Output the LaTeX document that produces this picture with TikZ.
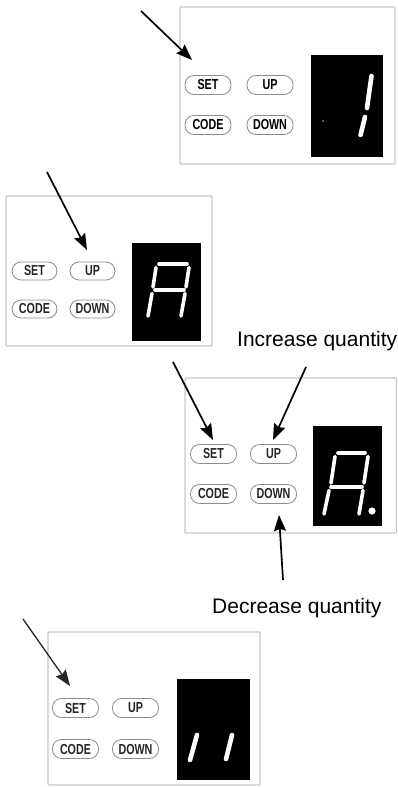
\documentclass[tikz,border=0pt]{standalone}
\usepackage{fontspec}
\setmainfont{Liberation Sans}
\newfontfamily\keyfont[FakeStretch=0.74]{Liberation Sans}
\usetikzlibrary{positioning,arrows.meta}

\tikzset{
	panel/.style={draw=black!22, line width=1.2pt, rounded corners=1pt},
	screen/.style={fill=black},
	key/.style={draw=black!45, line width=0.8pt, rounded corners=9pt, minimum width=46pt,
		minimum height=19pt, inner sep=0pt, text=black!85,
		font=\keyfont\bfseries\fontsize{14.5}{15}\selectfont},
	seg/.style={draw=white, line width=3.6pt, line cap=round},
	pointer/.style={-{Stealth[length=16pt,width=12pt,inset=2pt]}, line width=1.7pt},
	caption/.style={font=\fontsize{21}{25}\selectfont, inner sep=0pt}
}

\begin{document}
\begin{tikzpicture}[x=1pt,y=1pt,node distance=40pt and 62pt,on grid]
	\useasboundingbox (0,0) rectangle (398,-787);

	% first panel: SET pressed, shows 1
	\draw[panel] (180,-7) rectangle (395,-164);
	\fill[screen] (311,-55) rectangle (383,-157);
	\node[key, text=black] (set_1) at (208,-85) {SET};
	\node[key, text=black] (up_1) [right=of set_1] {UP};
	\node[key, text=black] (code_1) [below=of set_1] {CODE};
	\node[key, text=black] (down_1) [right=of code_1] {DOWN};
	\draw[seg, line width=4.6pt] (371.5,-76) -- (367,-108);
	\draw[seg, line width=4.6pt] (365,-117) -- (360.5,-135);
	\fill[black!45] (323,-121) circle (1pt);
	\coordinate (from_1) at (141,-11);
	\coordinate (to_1) at (192,-60);
	\draw[pointer] (from_1) -- (to_1);

	% second panel: UP, shows A
	\draw[panel] (6,-196) rectangle (212,-346);
	\fill[screen] (132,-243) rectangle (201,-341);
	\node[key, minimum width=45pt, minimum height=18pt] (set_2) at (34.5,-271) {SET};
	\node[key, minimum width=45pt, minimum height=18pt] (up_2) [right=58pt of set_2] {UP};
	\node[key, minimum width=45pt, minimum height=18pt] (code_2) [below=38pt of set_2] {CODE};
	\node[key, minimum width=45pt, minimum height=18pt] (down_2) [right=58pt of code_2] {DOWN};
	\draw[seg] (159,-264) -- (187,-264);
	\draw[seg] (156,-267.5) -- (153,-287);
	\draw[seg] (189,-267.5) -- (186,-287);
	\draw[seg] (155,-290) -- (184,-290);
	\draw[seg] (152,-293.5) -- (148,-316);
	\draw[seg] (185,-293.5) -- (181,-316);
	\coordinate (from_2) at (47,-172);
	\coordinate (to_2) at (87,-250);
	\draw[pointer] (from_2) -- (to_2);

	% third panel: UP / DOWN, shows A.
	\draw[panel] (185,-378) rectangle (396.5,-533);
	\fill[screen] (313,-426) rectangle (382,-526);
	\node[key] (set_3) at (213.5,-454) {SET};
	\node[key] (up_3) [right=60pt of set_3] {UP};
	\node[key] (code_3) [below=of set_3] {CODE};
	\node[key] (down_3) [right=60pt of code_3] {DOWN};
	\draw[seg] (338,-453) -- (365,-453);
	\draw[seg] (335,-456.5) -- (331,-483);
	\draw[seg] (368,-456.5) -- (364,-483);
	\draw[seg] (331,-487) -- (362,-487);
	\draw[seg] (329,-490.5) -- (324,-514);
	\draw[seg] (363,-490.5) -- (359,-514);
	\fill[white] (372,-511) circle (3.6pt);
	\node[caption, anchor=base west] (inc) at (237,-346) {Increase quantity};
	\node[caption, anchor=base west] (dec) at (212,-613) {Decrease quantity};
	\coordinate (from_3) at (173,-362);
	\coordinate (to_3) at (213,-440);
	\coordinate (from_4) at (306,-367);
	\coordinate (to_4) at (273,-440);
	\coordinate (from_5) at (283,-580);
	\coordinate (to_5) at (279,-515);
	\draw[pointer] (from_3) -- (to_3);
	\draw[pointer] (from_4) -- (to_4);
	\draw[pointer] (from_5) -- (to_5);

	% fourth panel: SET again, shows 11
	\draw[panel] (48,-632) rectangle (260,-785);
	\fill[screen] (177,-679) rectangle (250,-780);
	\node[key] (set_4) at (75.5,-708) {SET};
	\node[key] (up_4) [right=60pt of set_4] {UP};
	\node[key] (code_4) [below=41pt of set_4] {CODE};
	\node[key] (down_4) [right=60pt of code_4] {DOWN};
	\draw[seg, line width=4.6pt] (197,-735) -- (190,-760);
	\draw[seg, line width=4.6pt] (232,-735) -- (226,-759);
	\coordinate (from_6) at (23,-619);
	\coordinate (to_6) at (70,-686);
	\draw[pointer, black!85, line width=1.3pt] (from_6) -- (to_6);
\end{tikzpicture}
\end{document}
